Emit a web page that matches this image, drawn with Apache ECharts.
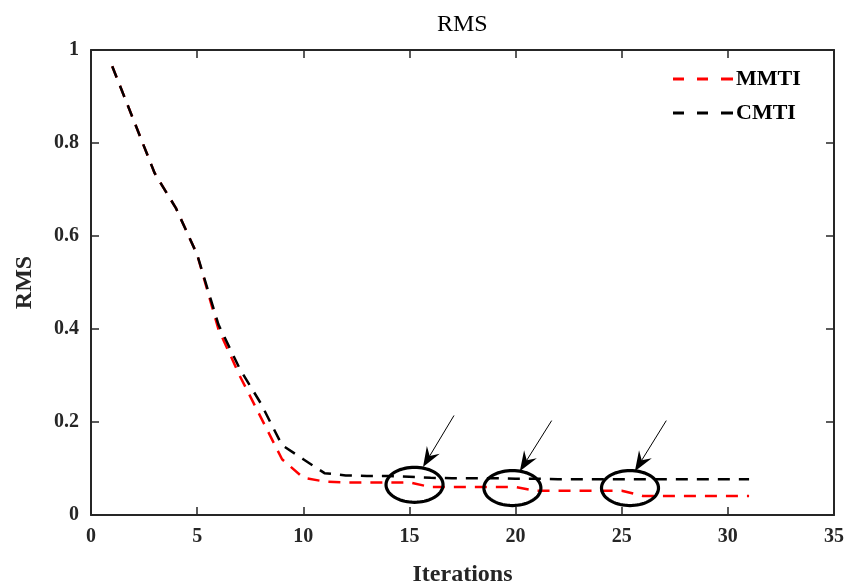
<!DOCTYPE html>
<html>
<head>
<meta charset="utf-8">
<script src="https://cdn.jsdelivr.net/npm/echarts@6/dist/echarts.min.js"></script>
<style>
  html, body { margin: 0; padding: 0; background: #ffffff; }
  #chart { width: 848px; height: 587px; }
</style>
</head>
<body>
<div id="chart"></div>
<script>
// Iteration index and RMS values of the two methods
const iterations = [1, 2, 3, 4, 5, 6, 7, 8, 9, 10, 11, 12, 13, 14, 15, 16,
  17, 18, 19, 20, 21, 22, 23, 24, 25, 26, 27, 28, 29, 30, 31];
const mmti = [0.965, 0.85, 0.735, 0.66, 0.56, 0.40, 0.30, 0.21, 0.12, 0.08,
  0.072, 0.07, 0.07, 0.07, 0.07, 0.06, 0.06, 0.06, 0.06, 0.06, 0.052, 0.052,
  0.052, 0.052, 0.052, 0.041, 0.041, 0.041, 0.041, 0.041, 0.041];
const cmti = [0.965, 0.85, 0.735, 0.66, 0.56, 0.41, 0.315, 0.24, 0.15, 0.12,
  0.09, 0.085, 0.084, 0.084, 0.082, 0.08, 0.079, 0.079, 0.079, 0.078, 0.078,
  0.077, 0.077, 0.077, 0.077, 0.077, 0.077, 0.077, 0.077, 0.077, 0.077];

// Axis ranges and tick spacing
const xRange = [0, 35];
const xStep = 5;
const yRange = [0, 1];
const yStep = 0.2;

// Highlighted regions (ellipse centres) and the arrows pointing at them
const ellipseCentres = [[15.24, 0.065], [19.85, 0.058], [25.39, 0.058]];
const arrowTails = [[17.1, 0.214], [21.7, 0.203], [27.1, 0.203]];
const arrowTips = [[15.64, 0.103], [20.2, 0.094], [25.62, 0.094]];

const serif = '"Liberation Serif", "DejaVu Serif", serif';
const axisColor = '#262626';
// three-dash legend key (60 x 3 units)
const dashedKey = 'path://M0,0h11v3h-11zM24,0h11v3h-11zM48,0h12v3h-12z';

const chart = echarts.init(document.getElementById('chart'));

function pairs(xs, ys) {
  return xs.map((x, i) => [x, ys[i]]);
}

function ellipseItem(params, api) {
  const c = api.coord([api.value(0), api.value(1)]);
  const rx = 28.5, ry = 17.5, pts = [];
  for (let k = 0; k < 72; k++) {
    const t = (k / 72) * Math.PI * 2;
    pts.push([c[0] + rx * Math.cos(t), c[1] + ry * Math.sin(t)]);
  }
  return {
    type: 'polygon',
    shape: { points: pts },
    style: { fill: 'none', stroke: '#000', lineWidth: 3.2 }
  };
}

function arrowItem(params, api) {
  const a = api.coord([api.value(0), api.value(1)]);
  const b = api.coord([api.value(2), api.value(3)]);
  const dx = b[0] - a[0], dy = b[1] - a[1];
  const len = Math.sqrt(dx * dx + dy * dy);
  const ux = dx / len, uy = dy / len;
  const px = -uy, py = ux;
  const headLen = 20, halfW = 7.5, notch = 13;
  const back = [b[0] - ux * headLen, b[1] - uy * headLen];
  const nb = [b[0] - ux * notch, b[1] - uy * notch];
  return {
    type: 'group',
    children: [
      {
        type: 'line',
        shape: { x1: a[0], y1: a[1], x2: nb[0], y2: nb[1] },
        style: { stroke: '#000', lineWidth: 1 }
      },
      {
        type: 'polygon',
        shape: {
          points: [
            b,
            [back[0] + px * halfW, back[1] + py * halfW],
            nb,
            [back[0] - px * halfW, back[1] - py * halfW]
          ]
        },
        style: { fill: '#000' }
      }
    ]
  };
}

const tickLabel = { fontFamily: serif, fontWeight: 'bold', fontSize: 20, color: axisColor };

const option = {
  backgroundColor: '#ffffff',
  animation: false,
  title: {
    text: 'RMS',
    left: 432,
    top: 8,
    textStyle: { fontFamily: serif, fontWeight: 'normal', fontSize: 24, color: '#000' }
  },
  legend: {
    orient: 'vertical',
    left: 673,
    top: 68,
    padding: 0,
    itemWidth: 60,
    itemHeight: 3,
    itemGap: 12,
    data: [
      { name: 'MMTI', icon: dashedKey },
      { name: 'CMTI', icon: dashedKey }
    ],
    itemStyle: { borderWidth: 0 },
    textStyle: {
      fontFamily: serif, fontWeight: 'bold', fontSize: 22, color: '#000',
      padding: [0, 0, 0, -2]
    }
  },
  grid: { left: 91, right: 14, top: 50, bottom: 72, outerBoundsMode: 'none' },
  xAxis: [
    {
      type: 'value', min: xRange[0], max: xRange[1], interval: xStep,
      name: 'Iterations', nameLocation: 'middle', nameGap: 48,
      nameTextStyle: { fontFamily: serif, fontWeight: 'bold', fontSize: 24, color: axisColor },
      axisLine: { show: true, onZero: false, lineStyle: { color: axisColor, width: 2 } },
      axisTick: { show: true, inside: true, length: 8, lineStyle: { color: axisColor, width: 1.5 } },
      axisLabel: Object.assign({ margin: 12 }, tickLabel),
      splitLine: { show: false }
    },
    {
      type: 'value', position: 'top', min: xRange[0], max: xRange[1], interval: xStep,
      axisLine: { show: true, onZero: false, lineStyle: { color: axisColor, width: 2 } },
      axisTick: { show: true, inside: true, length: 8, lineStyle: { color: axisColor, width: 1.5 } },
      axisLabel: { show: false },
      splitLine: { show: false }
    }
  ],
  yAxis: [
    {
      type: 'value', min: yRange[0], max: yRange[1], interval: yStep,
      name: 'RMS', nameLocation: 'middle', nameGap: 54, nameRotate: 90,
      nameTextStyle: { fontFamily: serif, fontWeight: 'bold', fontSize: 24, color: axisColor },
      axisLine: { show: true, onZero: false, lineStyle: { color: axisColor, width: 2 } },
      axisTick: { show: true, inside: true, length: 8, lineStyle: { color: axisColor, width: 1.5 } },
      axisLabel: Object.assign({ margin: 12 }, tickLabel),
      splitLine: { show: false }
    },
    {
      type: 'value', position: 'right', min: yRange[0], max: yRange[1], interval: yStep,
      axisLine: { show: true, onZero: false, lineStyle: { color: axisColor, width: 2 } },
      axisTick: { show: true, inside: true, length: 8, lineStyle: { color: axisColor, width: 1.5 } },
      axisLabel: { show: false },
      splitLine: { show: false }
    }
  ],
  series: [
    {
      name: 'MMTI', type: 'line', data: pairs(iterations, mmti),
      symbol: 'none', color: '#ff0000',
      lineStyle: { color: '#ff0000', width: 2.5, type: [12, 9] }
    },
    {
      name: 'CMTI', type: 'line', data: pairs(iterations, cmti),
      symbol: 'none', color: '#000000',
      lineStyle: { color: '#000000', width: 2.5, type: [12, 9] }
    },
    {
      name: 'regions', type: 'custom', renderItem: ellipseItem,
      data: ellipseCentres, clip: false, silent: true, z: 5
    },
    {
      name: 'arrows', type: 'custom', renderItem: arrowItem,
      data: arrowTails.map((t, i) => [t[0], t[1], arrowTips[i][0], arrowTips[i][1]]),
      encode: { x: [0, 2], y: [1, 3] },
      clip: false, silent: true, z: 5
    }
  ]
};

chart.setOption(option);
</script>
</body>
</html>
